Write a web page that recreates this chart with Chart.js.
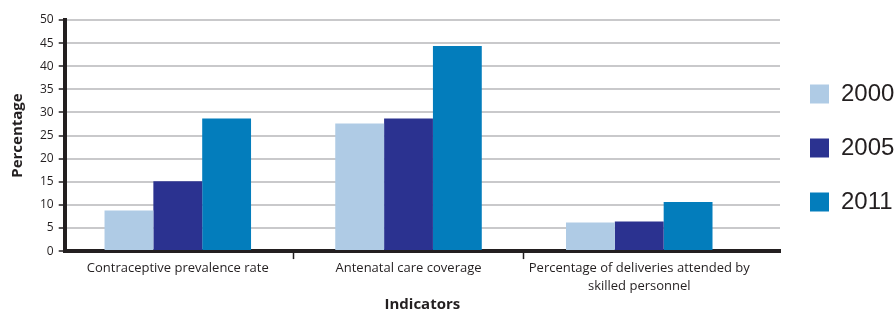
<!DOCTYPE html>
<html>
<head>
<meta charset="utf-8">
<script src="https://cdn.jsdelivr.net/npm/chart.js@4"></script>
<style>
html,body{margin:0;padding:0;background:#fff;}
#wrap{width:895px;height:314px;position:relative;}
</style>
</head>
<body>
<div id="wrap"><canvas id="c"></canvas></div>
<script>
const categories = [
  'Contraceptive prevalence rate',
  'Antenatal care coverage',
  ['Percentage of deliveries attended by', 'skilled personnel']
];
const seriesNames = ['2000', '2005', '2011'];
const values2000 = [8.8, 27.6, 6.2];
const values2005 = [15.1, 28.7, 6.4];
const values2011 = [28.7, 44.4, 10.6];
const yTicks = [0, 5, 10, 15, 20, 25, 30, 35, 40, 45, 50];
const colors = ['#afcbe5', '#2b3290', '#037dbc'];

const dark = '#231f20';
const FAM = 'Open Sans';

const toPoints = arr => arr.map((v, i) => ({x: i, y: v}));
const seriesValues = [values2000, values2005, values2011];

new Chart(document.getElementById('c'), {
  type: 'bar',
  data: {
    datasets: seriesNames.map((name, k) => ({
      label: name,
      data: toPoints(seriesValues[k]),
      backgroundColor: colors[k],
      borderWidth: 0,
      categoryPercentage: 0.635,
      barPercentage: 1
    }))
  },
  options: {
    responsive: true,
    maintainAspectRatio: false,
    animation: false,
    layout: {padding: {top: 20, left: 7, right: 0, bottom: 0}},
    plugins: {
      tooltip: {enabled: false},
      legend: {
        position: 'right',
        align: 'start',
        maxWidth: 115,
        title: {display: true, text: ' ', padding: 0, font: {size: 10, lineHeight: 3.2}},
        labels: {
          boxWidth: 19,
          boxHeight: 19,
          padding: 30,
          color: dark,
          font: {family: 'Liberation Sans', size: 24}
        }
      }
    },
    scales: {
      x: {
        type: 'linear',
        offset: false,
        min: -0.49,
        max: 2.61,
        afterBuildTicks: s => { s.ticks = categories.map((c, i) => ({value: i})); },
        ticks: {
          color: dark,
          font: {family: FAM, size: 13, lineHeight: 1.42},
          padding: 0,
          maxRotation: 0,
          autoSkip: false,
          callback: (v) => categories[Math.round(v)]
        },
        grid: {
          offset: true,
          drawOnChartArea: false,
          tickLength: 8,
          tickWidth: 1.5,
          tickColor: ctx => (ctx.index === 1 || ctx.index === 2) ? dark : 'rgba(0,0,0,0)'
        },
        border: {color: dark, width: 4},
        title: {
          display: true,
          text: 'Indicators',
          color: dark,
          font: {family: FAM, size: 15, weight: 'bold'},
          padding: {top: 0, bottom: 0}
        }
      },
      y: {
        min: 0,
        max: 50,
        afterBuildTicks: s => { s.ticks = yTicks.map(v => ({value: v})); },
        ticks: {color: dark, font: {family: FAM, size: 12}, padding: 5},
        grid: {color: '#c9c9cb', lineWidth: 2, tickColor: dark, tickLength: 6, tickWidth: 1.5},
        border: {color: dark, width: 4},
        title: {
          display: true,
          text: 'Percentage',
          color: dark,
          font: {family: FAM, size: 15, weight: 'bold'},
          padding: {top: 2, bottom: 8}
        }
      }
    }
  }
});
</script>
</body>
</html>
